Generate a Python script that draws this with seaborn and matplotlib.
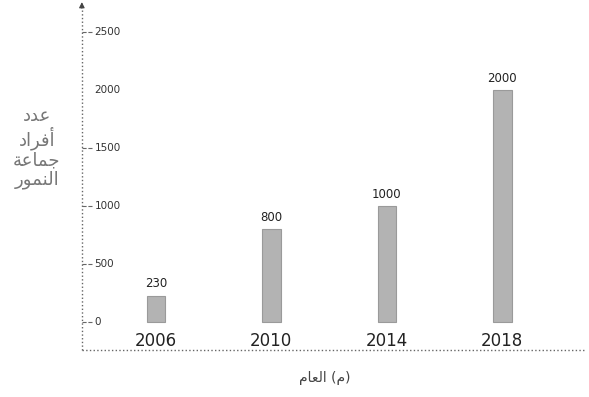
import numpy as np
import pandas as pd
import seaborn as sns
import matplotlib.pyplot as plt

# data
years = ['2006', '2010', '2014', '2018']
tigers = [230, 800, 1000, 2000]
yticks = [0, 500, 1000, 1500, 2000, 2500]

# Arabic text, shaped by hand into presentation forms (visual order)
ylab = '\n'.join([
    '\uFEA9\uFEAA\uFECB',                      # عدد
    '\uFEA9\uFE8D\uFEAE\uFED3\uFE83',          # أفراد
    '\uFE94\uFECB\uFE8E\uFEE4\uFE9F',          # جماعة
    '\uFEAD\uFEEE\uFEE4\uFEE8\uFEDF\uFE8D',    # النمور
])
xlab = '\uFEE1\uFE8E\uFECC\uFEDF\uFE8D (\uFEE1)'  # العام (م)

sns.set_style('white')
plt.rcParams['font.family'] = ['DejaVu Sans']

fig = plt.figure(figsize=(5.89, 3.97), dpi=100)
ax = fig.add_axes([0.139, 0.118, 0.855, 0.869])

df = pd.DataFrame({'year': years, 'n': tigers})
sns.barplot(data=df, x='year', y='n', color='#b3b3b3', width=0.16,
            edgecolor='#9a9a9a', linewidth=0.8, saturation=1, ax=ax)

ax.set_xlim(-0.64, 3.72)
ax.set_ylim(-240, 2730)

for s in ax.spines.values():
    s.set_visible(False)
ax.set_xticks([])
ax.set_yticks([])
ax.set_xlabel('')
ax.set_ylabel('')

# dotted axes with arrow on top
ax.plot([-0.64, -0.64], [-240, 2700], ls=':', color='#666666', lw=1, clip_on=False)
ax.annotate('', xy=(-0.64, 2780), xytext=(-0.64, 2680),
            arrowprops=dict(arrowstyle='-|>', color='#444444', lw=0.8, mutation_scale=8),
            annotation_clip=False)
ax.plot([-0.64, 3.72], [-240, -240], ls=':', color='#666666', lw=1, clip_on=False)

# y ticks drawn inside with dashes
for t in yticks:
    if t != 2000:
        ax.plot([-0.64, -0.55], [t, t], ls='--', color='#666666', lw=0.8)
    ax.text(-0.53, t, str(t), fontsize=7.5, va='center', ha='left', color='#333333')

# value labels and year labels
for i, v in enumerate(tigers):
    ax.text(i, v + 45, str(v), fontsize=8.5, ha='center', va='bottom', color='#222222')
    ax.text(i, -165, years[i], fontsize=12, ha='center', va='center', color='#222222')

fig.text(37 / 589, 1 - 148 / 397, ylab, fontsize=13, ha='center', va='center',
         ma='center', color='#777777', linespacing=1.1)
fig.text(325 / 589, 1 - 378 / 397, xlab, fontsize=10, ha='center', va='center',
         color='#444444')

fig.savefig('out.png', dpi=100)
